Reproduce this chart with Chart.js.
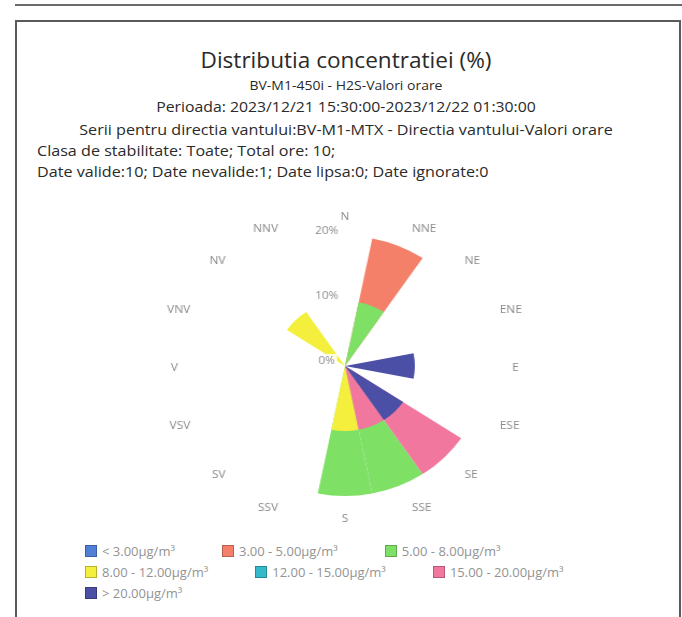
<!DOCTYPE html>
<html>
<head>
<meta charset="utf-8">
<script src="https://cdn.jsdelivr.net/npm/chart.js@4.4.1/dist/chart.umd.min.js"></script>
<style>
  html, body { margin: 0; padding: 0; background: #fff; }
  body { width: 682px; height: 617px; position: relative; overflow: hidden; font-family: "Open Sans", "Noto Sans", sans-serif; }
  .line-top { position: absolute; left: 15px; top: 4px; width: 670px; border-top: 2px solid #6a6a6a; }
  .frame { position: absolute; left: 15px; top: 20px; width: 662px; height: 640px; border: 2px solid #5a5a5a; border-bottom: none; }
  .hdr { position: absolute; left: 0; width: 692px; text-align: center; color: #2a2a2a; white-space: nowrap;
         line-height: 20px; transform: scaleX(1.075); transform-origin: 346px 0; }
  .left { text-align: left; left: 37px; width: auto; transform-origin: 0 0; }
  #title { top: 47px; font-size: 21px; line-height: 26px; }
  .sub { font-size: 15px; }
  #wrap { position: absolute; left: 0; top: 191px; width: 682px; height: 350px; transform: scaleX(1.075); transform-origin: 345px 0; }
  #legend { position: absolute; left: 85px; top: 543px; width: 570px; display: flex; flex-wrap: wrap; row-gap: 6px; }
  .li { display: flex; align-items: center; height: 15px; margin-right: 47px; font-size: 13px; color: #939393; }
  .sw { width: 12px; height: 12px; margin-right: 5px; box-sizing: border-box; border: 1px solid rgba(0,0,0,0.25); }
</style>
</head>
<body>
<div class="line-top"></div>
<div class="frame"></div>
<div class="hdr" id="title">Distributia concentratiei (%)</div>
<div class="hdr sub" style="top:75px;font-size:13px">BV-M1-450i - H2S-Valori orare</div>
<div class="hdr sub" style="top:96px;font-size:14.7px">Perioada: 2023/12/21 15:30:00-2023/12/22 01:30:00</div>
<div class="hdr sub" style="top:119px">Serii pentru directia vantului:BV-M1-MTX - Directia vantului-Valori orare</div>
<div class="hdr sub left" style="top:140px">Clasa de stabilitate: Toate; Total ore: 10;</div>
<div class="hdr sub left" style="top:161px">Date valide:10; Date nevalide:1; Date lipsa:0; Date ignorate:0</div>
<div id="wrap"><canvas id="c"></canvas></div>
<div id="legend"></div>
<script>
// Wind directions (categories)
const directions = ['N','NNE','NE','ENE','E','ESE','SE','SSE','S','SSV','SV','VSV','V','VNV','NV','NNV'];
// Concentration classes (legend)
const classLabels = ['< 3.00µg/m³','3.00 - 5.00µg/m³','5.00 - 8.00µg/m³','8.00 - 12.00µg/m³','12.00 - 15.00µg/m³','15.00 - 20.00µg/m³','> 20.00µg/m³'];
// Frequency (%) per direction for each class
//                 N  NNE NE ENE E  ESE SE SSE S  SSV SV VSV V  VNV NV NNV
const cLt3     = [0, 0,  0, 0,  0, 0,  0, 0,  0, 0,  0, 0,  0, 0,  0, 0];
const c3to5    = [0, 10, 0, 0,  0, 0,  0, 0,  0, 0,  0, 0,  0, 0,  0, 0];
const c5to8    = [0, 10, 0, 0,  0, 0,  0, 10, 10,0,  0, 0,  0, 0,  0, 0];
const c8to12   = [0, 0,  0, 0,  0, 0,  0, 0,  10,0,  0, 0,  0, 0,  10,0];
const c12to15  = [0, 0,  0, 0,  0, 0,  0, 0,  0, 0,  0, 0,  0, 0,  0, 0];
const c15to20  = [0, 0,  0, 0,  0, 0,  10,10, 0, 0,  0, 0,  0, 0,  0, 0];
const cGt20    = [0, 0,  0, 0,  10,0,  10,0,  0, 0,  0, 0,  0, 0,  0, 0];
// Radial axis ticks
const tickValues = [0, 10, 20];
const tickLabels = ['0%', '10%', '20%'];

const series = [cLt3, c3to5, c5to8, c8to12, c12to15, c15to20, cGt20];
const colors = ['#4f7fd6', '#f5806a', '#7fe066', '#f4ef3c', '#33b9c9', '#f2779e', '#4b4fa6'];

// Stack from the highest class outward (highest class innermost).
const datasets = series.map((vals, k) => {
  const cum = vals.map((v, d) => {
    if (!v) return 0;
    let s = 0;
    for (let j = k; j < series.length; j++) s += series[j][d];
    return s;
  });
  return {
    label: classLabels[k],
    data: cum,
    backgroundColor: colors[k],
    borderWidth: 0,
    order: series.length - 1 - k
  };
});

const labelPlugin = {
  id: 'roseLabels',
  afterDatasetsDraw(chart) {
    const s = chart.scales.r;
    const ctx = chart.ctx;
    ctx.save();
    ctx.font = '11px "Open Sans", sans-serif';
    ctx.textBaseline = 'middle';
    // radial tick labels
    ctx.textAlign = 'center';
    tickValues.forEach((v, i) => {
      const d = s.getDistanceFromCenterForValue(v);
      const x = s.xCenter - 17;
      const y = s.yCenter - d - 5;
      const w = ctx.measureText(tickLabels[i]).width;
      ctx.fillStyle = 'rgba(255,255,255,0.85)';
      ctx.fillRect(x - w / 2 - 2, y - 7, w + 4, 14);
      ctx.fillStyle = '#8d8d8d';
      ctx.fillText(tickLabels[i], x, y);
    });
    // direction labels, centred on each sector
    ctx.fillStyle = '#8a8a8a';
    const n = directions.length;
    directions.forEach((lab, i) => {
      const p = s.getPointPosition(i, s.drawingArea + 21, Math.PI / n);
      const dx = p.x - s.xCenter;
      ctx.textAlign = dx > 2 ? 'left' : (dx < -2 ? 'right' : 'center');
      const shift = dx > 2 ? 4.5 : (dx < -2 ? -4.5 : 0);
      ctx.fillText(lab, p.x + shift, p.y + 2);
    });
    ctx.restore();
  }
};

new Chart(document.getElementById('c'), {
  type: 'polarArea',
  data: { labels: directions, datasets },
  options: {
    responsive: true,
    maintainAspectRatio: false,
    animation: false,
    layout: { padding: { left: 8, right: 0, top: 45, bottom: 45 } },
    plugins: { legend: { display: false }, tooltip: { enabled: false } },
    scales: {
      r: {
        min: 0,
        max: 20,
        startAngle: -11.25,
        ticks: { display: false, stepSize: 10 },
        grid: { display: false },
        angleLines: { display: false },
        pointLabels: { display: false }
      }
    }
  },
  plugins: [labelPlugin]
});

// HTML legend built from the class arrays
const lg = document.getElementById('legend');
classLabels.forEach((t, k) => {
  const it = document.createElement('div');
  it.className = 'li';
  const sw = document.createElement('span');
  sw.className = 'sw';
  sw.style.background = colors[k];
  it.appendChild(sw);
  const tx = document.createElement('span');
  tx.textContent = t;
  it.appendChild(tx);
  lg.appendChild(it);
});
</script>
</body>
</html>
